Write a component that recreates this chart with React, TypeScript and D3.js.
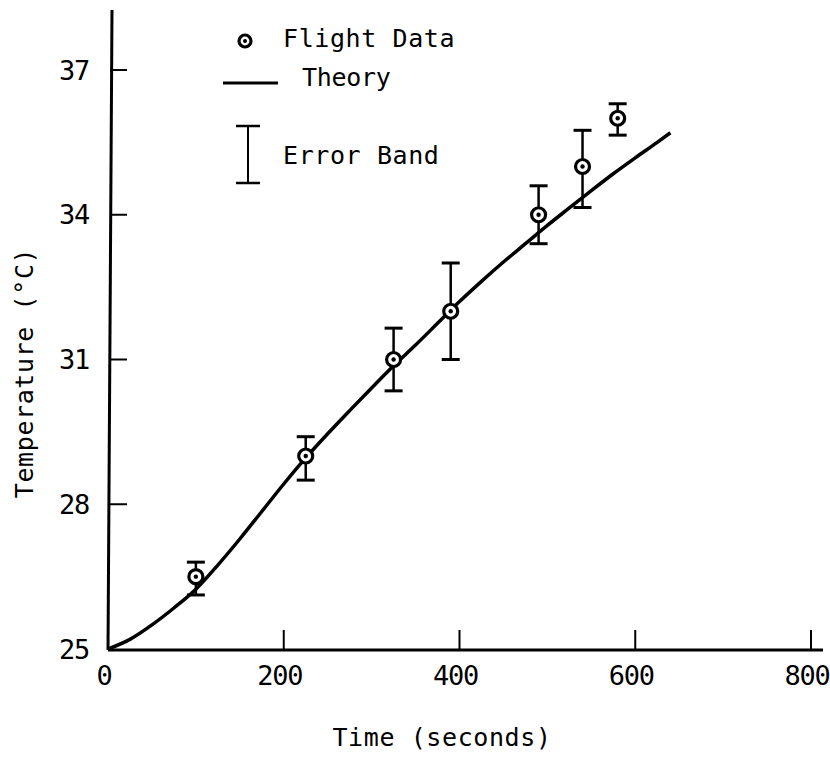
import React from "react";
import * as d3 from "d3";

// Flight measurements: time (s), temperature (°C) and error band limits
const flightTime = [100, 225, 325, 390, 490, 540, 580];
const flightTemp = [26.5, 29.0, 31.0, 32.0, 34.0, 35.0, 36.0];
const bandLow = [26.12, 28.5, 30.35, 31.0, 33.4, 34.15, 35.65];
const bandHigh = [26.8, 29.4, 31.65, 33.0, 34.6, 35.75, 36.3];

// Theoretical temperature history
const theoryTime = [0, 25, 50, 75, 100, 125, 150, 175, 200, 225, 250, 275, 300, 325, 350, 375, 400, 425, 450, 475, 500, 525, 550, 575, 600, 625, 640];
const theoryTemp = [25.0, 25.2, 25.5, 25.85, 26.24, 26.74, 27.28, 27.85, 28.42, 28.96, 29.46, 29.94, 30.41, 30.87, 31.3, 31.75, 32.2, 32.62, 33.02, 33.4, 33.78, 34.14, 34.5, 34.85, 35.18, 35.5, 35.7];

const xTickValues = [0, 200, 400, 600, 800];
const yTickValues = [25, 28, 31, 34, 37];

const FONT = "'DejaVu Sans Mono', 'Liberation Mono', monospace";

export default function App() {
  const width = 830;
  const height = 757;
  const x = d3.scaleLinear().domain([0, 800]).range([108, 811]);
  const y = d3.scaleLinear().domain([25, 37]).range([649, 70]);

  const theory = theoryTime.map((t, i) => [t, theoryTemp[i]] as [number, number]);
  const line = d3
    .line<[number, number]>()
    .x((d) => x(d[0]))
    .y((d) => y(d[1]))
    .curve(d3.curveMonotoneX);

  const axisX0 = x(0);
  const axisY0 = y(25);

  return (
    <svg
      width={width}
      height={height}
      style={{ position: "absolute", left: 0, top: 0, background: "#fff" }}
      fontFamily={FONT}
    >
      {/* axes */}
      <line x1={112} y1={10} x2={axisX0} y2={axisY0 + 1} stroke="#000" strokeWidth={3} />
      <line x1={axisX0} y1={axisY0 + 1} x2={823} y2={axisY0 + 1} stroke="#000" strokeWidth={3} />

      {/* y ticks and labels */}
      {yTickValues.map((v) => (
        <g key={"y" + v}>
          {v !== 25 && (
            <line x1={axisX0 + 2} x2={axisX0 + 19} y1={y(v)} y2={y(v)} stroke="#000" strokeWidth={2} />
          )}
          <text x={89} y={y(v)} dy="0.36em" textAnchor="end" fontSize={27} letterSpacing={-1.2}>
            {v}
          </text>
        </g>
      ))}

      {/* x ticks and labels */}
      {xTickValues.map((v) => (
        <g key={"x" + v}>
          {v !== 0 && (
            <line x1={x(v)} x2={x(v)} y1={axisY0} y2={axisY0 - 19} stroke="#000" strokeWidth={2} />
          )}
          <text x={x(v) - 4} y={685} textAnchor="middle" fontSize={27} letterSpacing={-1.2}>
            {v}
          </text>
        </g>
      ))}

      {/* axis titles */}
      <text x={442} y={746} textAnchor="middle" fontSize={25} letterSpacing={0.6}>
        Time (seconds)
      </text>
      <text
        transform="translate(33,373) rotate(-90)"
        textAnchor="middle"
        fontSize={25}
        letterSpacing={0.6}
      >
        Temperature (°C)
      </text>

      {/* theory curve */}
      <path d={line(theory) ?? ""} fill="none" stroke="#000" strokeWidth={3.5} strokeLinejoin="round" />

      {/* flight data with error bands */}
      {flightTime.map((t, i) => {
        const cx = x(t);
        const cy = y(flightTemp[i]);
        const yLo = y(bandLow[i]);
        const yHi = y(bandHigh[i]);
        return (
          <g key={"p" + i}>
            <line x1={cx} x2={cx} y1={yHi} y2={yLo} stroke="#000" strokeWidth={2.5} />
            <line x1={cx - 9} x2={cx + 9} y1={yHi} y2={yHi} stroke="#000" strokeWidth={3} />
            <line x1={cx - 9} x2={cx + 9} y1={yLo} y2={yLo} stroke="#000" strokeWidth={3} />
            <circle cx={cx} cy={cy} r={7} fill="#fff" stroke="#000" strokeWidth={3.2} />
            <circle cx={cx} cy={cy} r={2.2} fill="#000" />
          </g>
        );
      })}

      {/* legend */}
      <circle cx={245} cy={41} r={6} fill="#fff" stroke="#000" strokeWidth={3.2} />
      <circle cx={245} cy={41} r={2} fill="#000" />
      <text x={283} y={47} fontSize={25} letterSpacing={0.6}>
        Flight Data
      </text>
      <line x1={223} x2={278} y1={83} y2={83} stroke="#000" strokeWidth={3} />
      <text x={302} y={86} fontSize={25} letterSpacing={-0.3}>
        Theory
      </text>
      <line x1={248} x2={248} y1={126} y2={183} stroke="#000" strokeWidth={2} />
      <line x1={236} x2={260} y1={126} y2={126} stroke="#000" strokeWidth={2.5} />
      <line x1={236} x2={260} y1={183} y2={183} stroke="#000" strokeWidth={2.5} />
      <text x={283} y={164} fontSize={25} letterSpacing={0.6}>
        Error Band
      </text>
    </svg>
  );
}
